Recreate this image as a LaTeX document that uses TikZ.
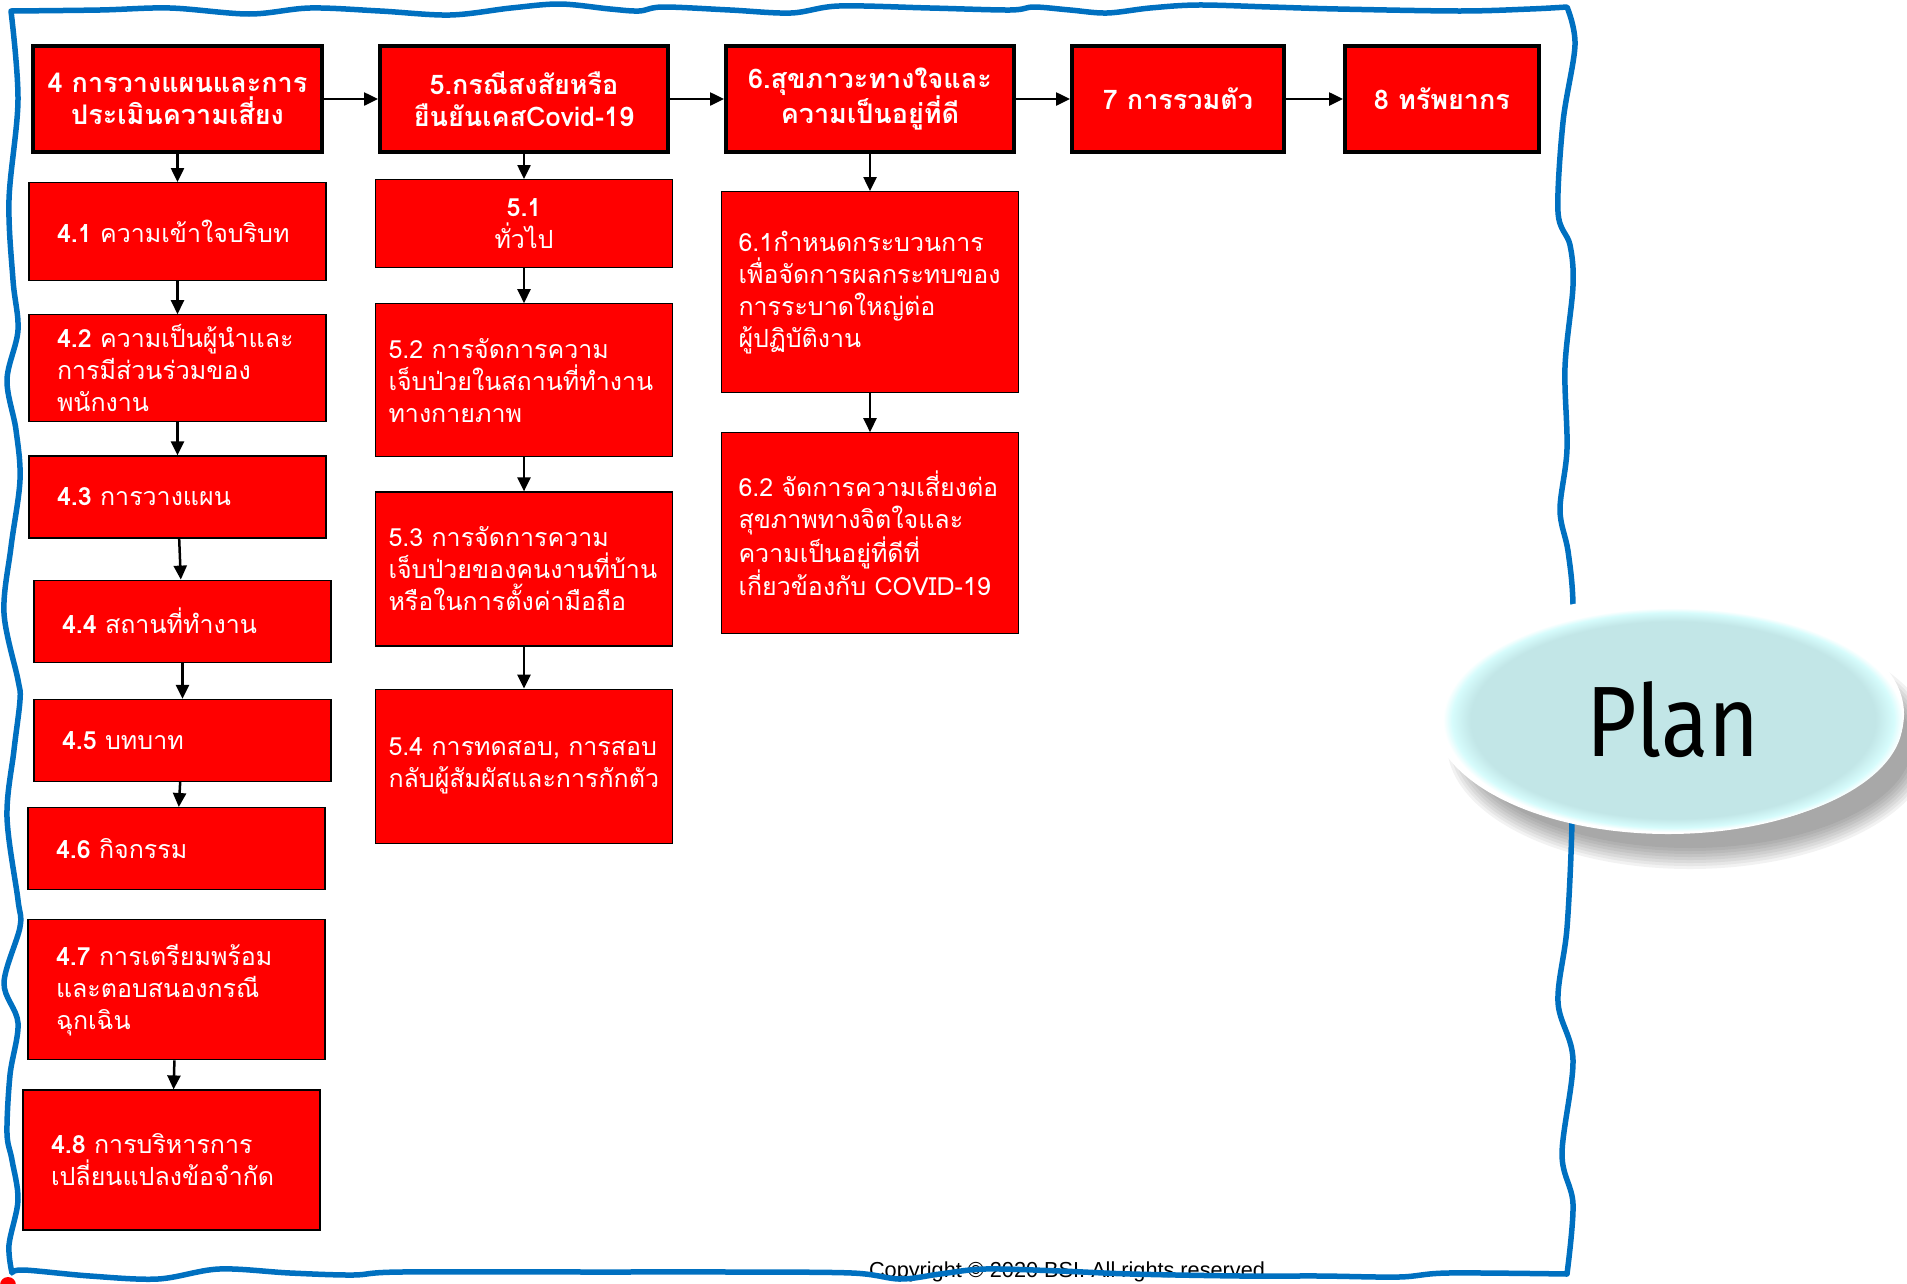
\documentclass[tikz,border=0pt]{standalone}
\usepackage{fontspec}
\setmainfont{Loma}[Script=Thai]
\newfontfamily\planfont{Fira Sans}[FakeStretch=0.87]
\newfontfamily\copyfont{Liberation Sans}
\usetikzlibrary{positioning,shapes.geometric,arrows.meta}

\definecolor{boxred}{RGB}{255,0,0}
\definecolor{frameblue}{RGB}{0,112,192}
\definecolor{plancore}{RGB}{194,230,231}
\definecolor{planrim}{RGB}{214,252,252}
\pgfdeclareradialshading{planglow}{\pgfpoint{0bp}{0bp}}{%
  color(0bp)=(plancore); color(22bp)=(plancore); color(24bp)=(planrim);
  color(25bp)=(white); color(50bp)=(white)}

\begin{document}
\begin{tikzpicture}[%
    x=1pt,
    y=-1pt,
    ->,
    >={Triangle[length=14pt,width=13pt]},
    node distance=33pt,
    link/.style={line width=2.5pt},
    headbox/.style={%
      rectangle,
      draw,
      line width=4pt,
      fill=boxred,
      text=white,
      font=\bfseries\fontsize{27}{32}\selectfont,
      align=center,
      minimum height=106pt
    },
    itembox/.style={%
      rectangle,
      draw,
      line width=1.2pt,
      fill=boxred,
      text=white,
      font=\fontsize{25}{32}\selectfont,
      align=left,
      inner ysep=2pt,
      minimum width=297pt
    },
    colfour/.style={itembox, inner xsep=28pt, text width=241pt},
    colfive/.style={itembox, inner xsep=13pt, text width=271pt},
    colsix/.style={itembox, inner xsep=17pt, text width=263pt}
  ]
    \useasboundingbox (0,0) rectangle (1907,1283);

    \node[headbox, minimum width=289pt] (4) at (177.5,99) {4 การวางแผนและการ\\ประเมินความเสี่ยง};
    \node[headbox, minimum width=288pt] (5) [right=54pt of 4] {5.กรณีสงสัยหรือ\\ยืนยันเคสCovid-19};
    \node[headbox, minimum width=288pt] (6) [right=54pt of 5] {6.สุขภาวะทางใจและ\\ความเป็นอยู่ที่ดี};
    \node[headbox, minimum width=212pt] (7) [right=54pt of 6] {7 การรวมตัว};
    \node[headbox, minimum width=194pt] (8) [right=57pt of 7] {8 ทรัพยากร};

    \node[colfour, minimum height=98pt] (41) [below=28pt of 4] {\textbf{4.1}~ความเข้าใจบริบท};
    \node[colfour, minimum height=107pt] (42) [below=of 41] {\textbf{4.2}~ความเป็นผู้นำและ\\การมีส่วนร่วมของ\\พนักงาน};
    \node[colfour, minimum height=82pt] (43) [below=of 42] {\textbf{4.3}~การวางแผน};
    \node[colfour, minimum height=82pt] (44) [below=41pt of 43, xshift=5pt] {\textbf{4.4}~สถานที่ทำงาน};
    \node[colfour, minimum height=82pt] (45) [below=36pt of 44] {\textbf{4.5}~บทบาท};
    \node[colfour, minimum height=82pt] (46) [below=25pt of 45, xshift=-6pt] {\textbf{4.6}~กิจกรรม};
    \node[colfour, minimum height=140pt] (47) [below=29pt of 46] {\textbf{4.7}~การเตรียมพร้อม\\และตอบสนองกรณี\\ฉุกเฉิน};
    \node[colfour, minimum height=140pt] (48) [below=29pt of 47, xshift=-5pt] {\textbf{4.8}~การบริหารการ\\เปลี่ยนแปลงข้อจำกัด};

    \node[colfive, align=center, minimum height=88pt] (51) [below=25pt of 5] {\textbf{5.1}\\ทั่วไป};
    \node[colfive, minimum height=153pt] (52) [below=35pt of 51] {5.2~การจัดการความ\\เจ็บป่วยในสถานที่ทำงาน\\ทางกายภาพ};
    \node[colfive, minimum height=154pt] (53) [below=34pt of 52] {5.3~การจัดการความ\\เจ็บป่วยของคนงานที่บ้าน\\หรือในการตั้งค่ามือถือ};
    \node[colfive, minimum height=154pt] (54) [below=42pt of 53] {5.4~การทดสอบ,~การสอบ\\กลับผู้สัมผัสและการกักตัว};

    \node[colsix, minimum height=201pt] (61) [below=37pt of 6] {6.1กำหนดกระบวนการ\\เพื่อจัดการผลกระทบของ\\การระบาดใหญ่ต่อ\\ผู้ปฏิบัติงาน};
    \node[colsix, minimum height=201pt] (62) [below=39pt of 61] {6.2~จัดการความเสี่ยงต่อ\\สุขภาพทางจิตใจและ\\ความเป็นอยู่ที่ดีที่\\เกี่ยวข้องกับ~COVID-19};

    \path[link] (4) edge (5)
          (5) edge (6)
          (6) edge (7)
          (7) edge (8)
          (4) edge (41)
          (41) edge (42)
          (42) edge (43)
          (43) edge (44)
          (44) edge (45)
          (45) edge (46)
          (47) edge (48)
          (5) edge (51)
          (51) edge (52)
          (52) edge (53)
          (53) edge (54)
          (6) edge (61)
          (61) edge (62);

    \node[font=\copyfont\fontsize{21.7}{24}\selectfont, anchor=base] (copy) at (1070,1277) {Copyright © 2020 BSI. All rights reserved.};

    \foreach \k in {0,...,7}
      \fill[black, opacity=0.05] (1690,744) ellipse [x radius=222pt+3pt*\k, y radius=104pt+3pt*\k];

    \draw[-, frameblue, line width=5.5pt, line join=round]
      plot[smooth, tension=0.55] coordinates {(11,11) (100,10) (170,8) (249,14) (310,8) (380,11) (450,15) (511,8) (560,4) (610,9) (639,11) (663,7) (730,10) (791,13) (839,6) (930,8) (1010,10) (1034,7) (1070,10) (1107,13) (1150,8) (1198,5) (1270,7) (1338,9) (1460,11) (1530,9) (1567,7)}
      -- plot[smooth, tension=0.55] coordinates {(1567,7) (1575,45) (1563,122) (1558,212) (1570,245) (1573,286) (1565,367) (1567,449) (1560,510) (1568,551) (1573,604) (1572,700) (1572,821) (1567,928) (1558,1002) (1573,1060) (1562,1154) (1573,1204) (1567,1274)}
      -- plot[smooth, tension=0.55] coordinates {(1567,1274) (1448,1273) (1399,1277) (1320,1276) (1241,1276) (1131,1274) (1060,1271) (985,1269) (940,1274) (900,1279) (852,1273) (730,1272) (600,1272) (401,1272) (353,1275) (290,1273) (219,1269) (158,1279) (90,1276) (24,1270) (12,1273)}
      -- plot[smooth, tension=0.55] coordinates {(12,1273) (9,1245) (18,1200) (12,1160) (7,1133) (10,1075) (18,1023) (4,983) (20,927) (18,900) (7,817) (14,750) (20,700) (18,680) (4,613) (11,547) (20,480) (16,430) (7,380) (18,330) (13,280) (9,200) (18,100) (11,11)}
      -- cycle;
    \fill[boxred] (8,1285) circle [radius=8pt];

    \fill[white] (1668,714) ellipse [x radius=236pt, y radius=120pt];
    \node[ellipse, shade, shading=planglow, minimum width=460pt, minimum height=224pt, inner sep=0pt,
          font=\planfont\fontsize{100}{100}\selectfont] (plan) at (1673,720) {Plan};
\end{tikzpicture}
\end{document}
